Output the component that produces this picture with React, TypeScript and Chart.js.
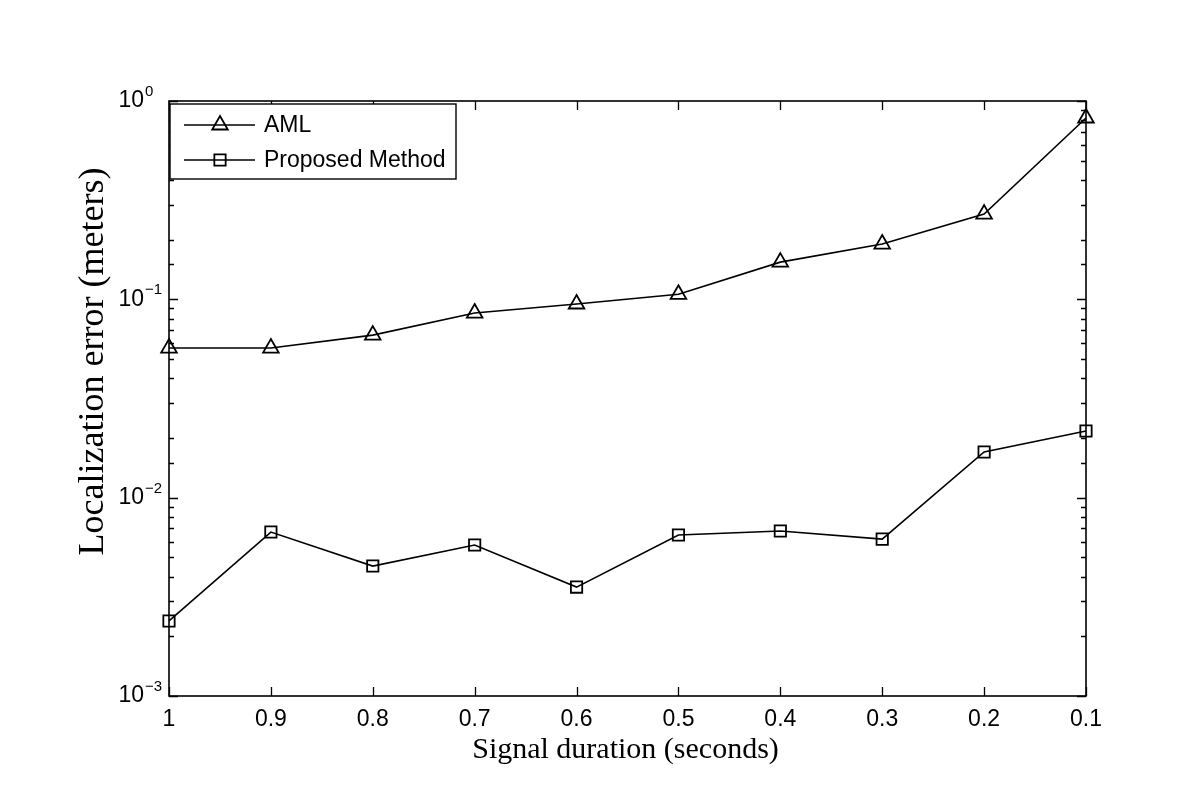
import React, { useEffect, useRef } from "react";
import { Chart, registerables } from "chart.js";

Chart.register(...registerables);

// ---- data ----
const durations = ["1", "0.9", "0.8", "0.7", "0.6", "0.5", "0.4", "0.3", "0.2", "0.1"];
const amlError = [0.0568, 0.0568, 0.066, 0.0853, 0.0947, 0.106, 0.154, 0.19, 0.269, 0.821];
const proposedError = [0.00239, 0.00671, 0.00452, 0.00577, 0.00354, 0.00648, 0.00679, 0.00618, 0.017, 0.0217];
const seriesLabels = ["AML", "Proposed Method"];
const yDecadeTicks = [1, 0.1, 0.01, 0.001];
const yDecadeExponents = ["0", "\u22121", "\u22122", "\u22123"];
const xTitle = "Signal duration (seconds)";
const yTitle = "Localization error (meters)";

const SANS = '"Liberation Sans", Arial, Helvetica, sans-serif';
const SERIF = '"Liberation Serif", "Times New Roman", serif';

function drawMarker(ctx: CanvasRenderingContext2D, style: string, x: number, y: number, r: number) {
  ctx.beginPath();
  if (style === "triangle") {
    const h = r * Math.sqrt(3) / 2;
    ctx.moveTo(x, y - r);
    ctx.lineTo(x + h, y + r / 2);
    ctx.lineTo(x - h, y + r / 2);
    ctx.closePath();
  } else {
    const s = Math.SQRT1_2 * r;
    ctx.rect(x - s, y - s, 2 * s, 2 * s);
  }
  ctx.stroke();
}

const decorPlugin = {
  id: "matlabDecor",
  afterDraw(chart: any) {
    const { ctx, chartArea: a, scales } = chart;
    const x = scales.x;
    const y = scales.y;
    ctx.save();
    ctx.strokeStyle = "#000";
    ctx.fillStyle = "#000";

    // inward tick marks
    ctx.lineWidth = 1.3;
    ctx.beginPath();
    x.ticks.forEach((_t: any, i: number) => {
      const px = Math.round(x.getPixelForTick(i)) + 0.5;
      ctx.moveTo(px, a.bottom);
      ctx.lineTo(px, a.bottom - 9);
      ctx.moveTo(px, a.top);
      ctx.lineTo(px, a.top + 9);
    });
    y.ticks.forEach((t: any) => {
      const v = t.value;
      if (v < y.min - 1e-12 || v > y.max + 1e-12) return;
      const e = Math.log10(v);
      const major = Math.abs(e - Math.round(e)) < 1e-6;
      const len = major ? 9 : 5;
      const py = Math.round(y.getPixelForValue(v)) + 0.5;
      ctx.moveTo(a.left, py);
      ctx.lineTo(a.left + len, py);
      ctx.moveTo(a.right, py);
      ctx.lineTo(a.right - len, py);
    });
    ctx.stroke();

    // axes box
    ctx.lineWidth = 1.6;
    ctx.strokeRect(a.left, a.top, a.right - a.left, a.bottom - a.top);

    // y decade labels 10^k
    yDecadeTicks.forEach((v, i) => {
      const py = y.getPixelForValue(v);
      ctx.font = `23px ${SANS}`;
      ctx.textAlign = "right";
      ctx.textBaseline = "middle";
      ctx.fillText("10", a.left - 25, py);
      ctx.font = `15px ${SANS}`;
      ctx.textAlign = "left";
      ctx.fillText(yDecadeExponents[i], a.left - 24, py - 9);
    });

    // axis titles
    ctx.font = `30px ${SERIF}`;
    ctx.textAlign = "center";
    ctx.textBaseline = "alphabetic";
    ctx.fillText(xTitle, (a.left + a.right) / 2 - 2, a.bottom + 62);

    ctx.save();
    ctx.translate(a.left - 66, (a.top + a.bottom) / 2 - 37);
    ctx.rotate(-Math.PI / 2);
    ctx.font = `36px ${SERIF}`;
    ctx.textAlign = "center";
    ctx.textBaseline = "alphabetic";
    ctx.fillText(yTitle, 0, 0);
    ctx.restore();

    // legend box
    const lx = a.left + 1;
    const ly = a.top + 3;
    const lw = 286;
    const lh = 75;
    ctx.fillStyle = "#fff";
    ctx.fillRect(lx, ly, lw, lh);
    ctx.lineWidth = 1.4;
    ctx.strokeRect(lx, ly, lw, lh);
    ctx.fillStyle = "#000";
    chart.data.datasets.forEach((ds: any, i: number) => {
      const ry = ly + 21 + i * 35;
      ctx.lineWidth = ds.borderWidth;
      ctx.beginPath();
      ctx.moveTo(lx + 14, ry);
      ctx.lineTo(lx + 85, ry);
      ctx.stroke();
      ctx.lineWidth = ds.pointBorderWidth;
      drawMarker(ctx, ds.pointStyle, lx + 50, ry, ds.pointRadius);
      ctx.font = `23px ${SANS}`;
      ctx.textAlign = "left";
      ctx.textBaseline = "middle";
      ctx.fillText(ds.label, lx + 94, ry + 1);
    });

    ctx.restore();
  },
};

export default function App() {
  const ref = useRef<HTMLCanvasElement>(null);

  useEffect(() => {
    const canvas = ref.current;
    if (!canvas) return;
    const common = {
      borderColor: "#000",
      borderWidth: 1.6,
      pointBorderColor: "#000",
      pointBackgroundColor: "rgba(0,0,0,0)",
      pointBorderWidth: 1.8,
      pointHoverRadius: 8,
      tension: 0,
      fill: false,
      clip: false as any,
    };
    const chart = new Chart(canvas, {
      type: "line",
      data: {
        labels: durations,
        datasets: [
          { ...common, label: seriesLabels[0], data: amlError, pointStyle: "triangle", pointRadius: 9 },
          { ...common, label: seriesLabels[1], data: proposedError, pointStyle: "rect", pointRadius: 8 },
        ],
      },
      options: {
        animation: false,
        responsive: false,
        maintainAspectRatio: false,
        layout: { padding: { top: 101, right: 114, left: 0, bottom: 0 } },
        plugins: { legend: { display: false }, tooltip: { enabled: false } },
        scales: {
          x: {
            type: "category",
            offset: false,
            grid: { display: false },
            border: { display: false },
            ticks: {
              color: "#000",
              font: { family: SANS, size: 23 },
              padding: 2,
              maxRotation: 0,
              minRotation: 0,
              autoSkip: false,
            },
            afterFit: (s: any) => {
              s.height = 100;
            },
          },
          y: {
            type: "logarithmic",
            min: 0.001,
            max: 1,
            grid: { display: false },
            border: { display: false },
            ticks: { display: false, autoSkip: false },
            afterFit: (s: any) => {
              s.width = 169;
            },
          },
        },
      },
      plugins: [decorPlugin],
    });
    return () => chart.destroy();
  }, []);

  return (
    <div style={{ position: "fixed", left: 0, top: 0, width: 1200, height: 796, background: "#fff" }}>
      <canvas ref={ref} width={1200} height={796} style={{ display: "block" }} />
    </div>
  );
}
